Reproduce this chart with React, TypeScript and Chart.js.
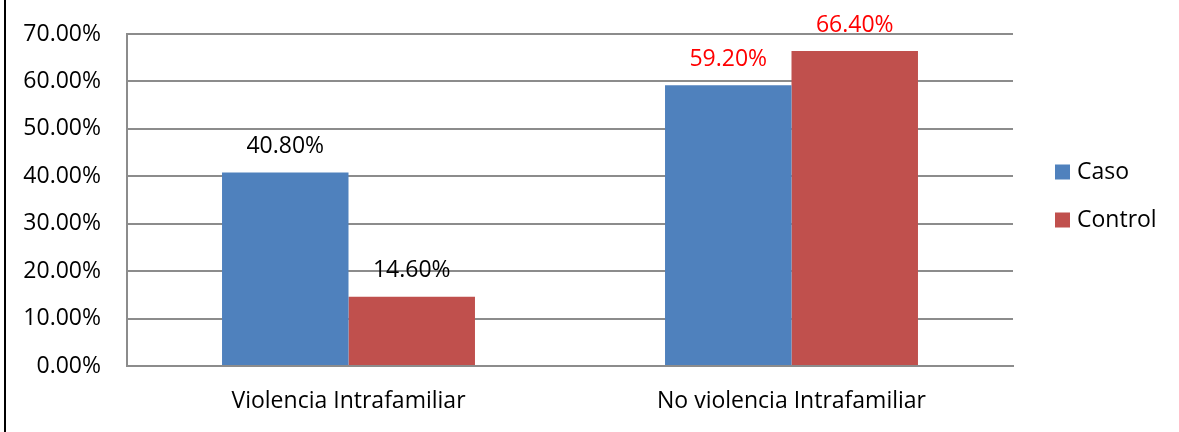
import React, { useEffect, useRef } from "react";
import { Chart, registerables } from "chart.js";

Chart.register(...registerables);

const categories = ["Violencia Intrafamiliar", "No violencia Intrafamiliar"];
const seriesNames = ["Caso", "Control"];
const casoValues = [40.8, 59.2];
const controlValues = [14.6, 66.4];
const yTicks = [0, 10, 20, 30, 40, 50, 60, 70];

const FONT = "'Open Sans'";
const FONT_SIZE = 23;
const COLORS = ["#4f81bd", "#c0504d"];
const LABEL_COLORS = ["#000000", "#ff0000"];
const GRID = "#8c8c8c";

const fmt = (v: number) => v.toFixed(2) + "%";

const valueLabels = {
  id: "valueLabels",
  afterDatasetsDraw(chart: any) {
    const ctx = chart.ctx;
    ctx.save();
    ctx.font = `${FONT_SIZE}px ${FONT}`;
    ctx.textAlign = "center";
    ctx.textBaseline = "middle";
    chart.data.datasets.forEach((ds: any, di: number) => {
      const meta = chart.getDatasetMeta(di);
      meta.data.forEach((el: any, i: number) => {
        ctx.fillStyle = LABEL_COLORS[i];
        ctx.fillText(fmt(ds.data[i]), el.x, el.y - 26);
      });
    });
    ctx.restore();
  },
};

const sideLegend = {
  id: "sideLegend",
  afterDraw(chart: any) {
    const ctx = chart.ctx;
    const a = chart.chartArea;
    const cy = (a.top + a.bottom) / 2;
    ctx.save();
    ctx.font = `${FONT_SIZE}px ${FONT}`;
    ctx.textAlign = "left";
    ctx.textBaseline = "middle";
    chart.data.datasets.forEach((ds: any, i: number) => {
      const y = cy - 28 + i * 48;
      ctx.fillStyle = ds.backgroundColor;
      ctx.fillRect(a.right + 42, y - 7.5, 15, 15);
      ctx.fillStyle = "#000";
      ctx.fillText(ds.label, a.right + 64, y);
    });
    ctx.restore();
  },
};

export default function App() {
  const ref = useRef<HTMLCanvasElement | null>(null);
  useEffect(() => {
    document.body.style.margin = "0";
    if (!ref.current) return;
    const chart = new Chart(ref.current, {
      type: "bar",
      data: {
        labels: categories,
        datasets: [
          {
            label: seriesNames[0],
            data: casoValues,
            backgroundColor: COLORS[0],
            categoryPercentage: 0.571,
            barPercentage: 1,
          },
          {
            label: seriesNames[1],
            data: controlValues,
            backgroundColor: COLORS[1],
            categoryPercentage: 0.571,
            barPercentage: 1,
          },
        ],
      },
      options: {
        animation: false,
        responsive: false,
        maintainAspectRatio: false,
        layout: { padding: { left: 0, top: 34, right: 166, bottom: 0 } },
        plugins: { legend: { display: false }, tooltip: { enabled: false } },
        scales: {
          x: {
            grid: {
              display: true,
              drawOnChartArea: false,
              drawTicks: true,
              tickLength: 20,
              tickColor: "rgba(0,0,0,0)",
            },
            border: { display: true, color: GRID, width: 2 },
            ticks: {
              color: "#000",
              font: { family: FONT, size: FONT_SIZE },
              padding: 2,
            },
            afterFit: (s: any) => {
              s.height = 66;
            },
          },
          y: {
            min: 0,
            max: 70,
            afterBuildTicks: (s: any) => {
              s.ticks = yTicks.map((v) => ({ value: v }));
            },
            grid: {
              color: GRID,
              lineWidth: 2,
              drawTicks: true,
              tickLength: 23,
              tickColor: "rgba(0,0,0,0)",
            },
            border: { display: true, color: GRID, width: 2 },
            ticks: {
              color: "#000",
              font: { family: FONT, size: FONT_SIZE },
              padding: 3,
              callback: (v: any) => fmt(Number(v)),
            },
            afterFit: (s: any) => {
              s.width = 127;
            },
          },
        },
      },
      plugins: [valueLabels, sideLegend],
    });
    return () => chart.destroy();
  }, []);
  return (
    <div style={{ position: "relative", width: 1179, height: 432 }}>
      <div
        style={{
          position: "absolute",
          left: 4,
          top: 0,
          width: 2,
          height: 432,
          background: "#000",
        }}
      />
      <canvas ref={ref} width={1179} height={432} style={{ display: "block" }} />
    </div>
  );
}
